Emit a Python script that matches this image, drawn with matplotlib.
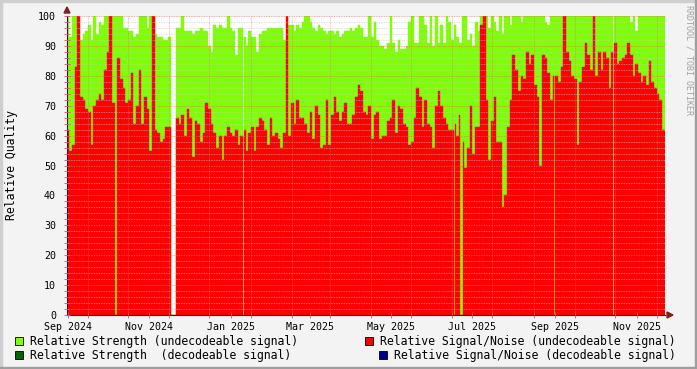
import datetime as dt
import numpy as np
import matplotlib
matplotlib.use("Agg")
import matplotlib.pyplot as plt
import matplotlib.dates as mdates
from matplotlib.patches import Rectangle, Polygon

# values, one value per 2 days starting 2024-08-31
snr = [62, 55, 57, 83, 100, 73, 72, 69, 68, 57,
       70, 72, 74, 72, 82, 88, 100, 71, 86, 86,
       79, 76, 71, 72, 81, 64, 70, 82, 64, 73,
       69, 55, 100, 62, 61, 58, 59, 63, 63, 62,
       62, 66, 64, 67, 60, 69, 66, 53, 65, 64,
       58, 61, 71, 69, 64, 61, 56, 60, 52, 60,
       63, 61, 60, 62, 57, 60, 62, 55, 61, 63,
       55, 63, 66, 65, 62, 57, 66, 60, 61, 59,
       56, 61, 100, 60, 71, 64, 72, 66, 66, 64,
       61, 68, 59, 70, 67, 56, 57, 72, 57, 67,
       73, 68, 65, 68, 71, 64, 64, 67, 73, 77,
       75, 68, 67, 70, 59, 67, 68, 59, 60, 60,
       65, 66, 72, 61, 70, 69, 64, 63, 57, 58,
       66, 76, 73, 63, 72, 64, 63, 56, 70, 75,
       70, 66, 64, 62, 62, 64, 60, 67, 58, 49,
       56, 70, 54, 63, 63, 97, 100, 72, 52, 65,
       73, 58, 58, 36, 40, 63, 72, 87, 82, 75,
       80, 79, 88, 84, 87, 77, 73, 50, 87, 86,
       81, 72, 80, 80, 78, 83, 100, 88, 85, 80,
       79, 57, 78, 83, 91, 87, 82, 100, 80, 88,
       82, 88, 86, 76, 88, 91, 84, 85, 86, 87,
       91, 87, 80, 84, 81, 78, 80, 77, 85, 78,
       76, 74, 72, 62]

strength = [100, 93, 100, 100, 93, 92, 94, 95, 97, 92,
            100, 94, 98, 97, 100, 100, 100, 100, 100, 100,
            100, 96, 96, 95, 95, 93, 94, 100, 100, 100,
            96, 100, 100, 94, 93, 93, 92, 92, 93, 93,
            93, 96, 96, 100, 95, 95, 95, 94, 95, 95,
            96, 95, 95, 90, 88, 97, 96, 97, 96, 96,
            100, 96, 95, 87, 96, 96, 93, 90, 95, 93,
            93, 88, 94, 95, 95, 96, 96, 96, 96, 96,
            96, 92, 91, 97, 97, 95, 97, 96, 98, 100,
            100, 98, 96, 95, 97, 96, 95, 94, 95, 95,
            94, 95, 93, 94, 95, 95, 96, 95, 96, 97,
            96, 93, 93, 100, 93, 98, 92, 90, 90, 89,
            91, 100, 91, 88, 92, 89, 89, 90, 98, 100,
            91, 91, 100, 100, 97, 91, 100, 90, 100, 91,
            97, 91, 100, 98, 92, 97, 93, 91, 100, 100,
            92, 94, 90, 98, 95, 100, 90, 100, 96, 100,
            98, 95, 100, 94, 100, 100, 97, 100, 100, 100,
            98, 100, 100, 100, 100, 100, 100, 100, 100, 98,
            97, 100, 100, 100, 100, 100, 100, 100, 100, 100,
            100, 100, 100, 100, 100, 100, 100, 100, 100, 100,
            100, 100, 100, 100, 100, 100, 100, 100, 100, 100,
            100, 98, 100, 95, 100, 100, 100, 100, 100, 100,
            100, 100, 100, 100]

missing_days = [78, 79, 80, 81, 132, 409]      # no data at all
zero_snr_days = [36, 37, 290, 295, 296, 365]  # strength only

start = dt.datetime(2024, 8, 31)
n_days = 2 * len(snr)
days = [start + dt.timedelta(days=i) for i in range(n_days)]
red = np.repeat(np.array(snr, float), 2)
green = np.repeat(np.array(strength, float), 2)
red[zero_snr_days] = 0
red[missing_days] = 0
green[missing_days] = 0

GREEN = "#80ff00"
RED = "#ff0000"

fig = plt.figure(figsize=(6.97, 3.69), dpi=100, facecolor="#f3f3f3")
W, H = 697, 369
ax = fig.add_axes([67 / W, 1 - 315 / H, 598 / W, 299 / H])
ax.set_facecolor("white")

ax.bar(days, green, width=1, align="edge", color=GREEN, edgecolor=GREEN, linewidth=0.3, zorder=1)
ax.bar(days, red, width=1, align="edge", color=RED, edgecolor=RED, linewidth=0.3, zorder=2)

ax.set_ylim(0, 100)
ax.set_xlim(dt.datetime(2024, 8, 31, 6), dt.datetime(2025, 11, 22, 6))

mono = "DejaVu Sans Mono"
ax.set_yticks(range(0, 101, 10))
ax.set_yticks(range(0, 101, 2), minor=True)
ax.xaxis.set_major_locator(mdates.MonthLocator(bymonth=[1, 3, 5, 7, 9, 11]))
ax.xaxis.set_major_formatter(mdates.DateFormatter("%b %Y"))
ax.xaxis.set_minor_locator(mdates.MonthLocator(bymonthday=16))
for lab in ax.get_xticklabels() + ax.get_yticklabels():
    lab.set_fontfamily(mono)
    lab.set_fontsize(7.2)
ax.tick_params(axis="both", which="both", direction="inout", length=4, width=0.6,
               color="#c06060", pad=3)
ax.tick_params(axis="y", pad=6)

ax.grid(True, which="minor", color="#c8c8c8", linestyle=(0, (1, 1)), linewidth=0.6, alpha=0.7)
ax.grid(True, which="major", axis="y", color="#e07070", linestyle=(0, (1, 1)), linewidth=0.6, alpha=0.8)
ax.grid(True, which="minor", axis="x", color="#e07070", linestyle=(0, (1, 1)), linewidth=0.6, alpha=0.6)
ax.set_axisbelow(False)

for s in ("top", "right"):
    ax.spines[s].set_visible(False)
for s in ("left", "bottom"):
    ax.spines[s].set_color("#202040")
    ax.spines[s].set_linewidth(0.8)

# axis arrows
arrow = "#7f1f1f"
fig.patches.append(Polygon([[64 / W, 1 - 13 / H], [70 / W, 1 - 13 / H], [67 / W, 1 - 7 / H]],
                           closed=True, transform=fig.transFigure, color=arrow))
fig.patches.append(Polygon([[667 / W, 1 - 312 / H], [667 / W, 1 - 318 / H], [673 / W, 1 - 315 / H]],
                           closed=True, transform=fig.transFigure, color=arrow))

fig.text(12 / W, 1 - 165 / H, "Relative Quality", rotation=90, ha="center", va="center",
         family=mono, fontsize=8.3, color="black")
fig.text(689 / W, 1 - 60 / H, "RRDTOOL / TOBI OETIKER", rotation=270, ha="center", va="center",
         family=mono, fontsize=6, color="#a0a0a0")

# legend
legend_rows = [
    (15, 341, GREEN, "Relative Strength (undecodeable signal)"),
    (15, 355, "#006400", "Relative Strength  (decodeable signal)"),
    (365, 341, RED, "Relative Signal/Noise (undecodeable signal)"),
    (379, 355, "#000090", "Relative Signal/Noise (decodeable signal)"),
]
for x, y, col, txt in legend_rows:
    fig.patches.append(Rectangle((x / W, 1 - (y + 4) / H), 8 / W, 8 / H, transform=fig.transFigure,
                                 facecolor=col, edgecolor="black", linewidth=0.6))
    fig.text((x + 15) / W, 1 - y / H, txt, ha="left", va="center", family=mono, fontsize=8.3)

# frame
fig.patches.append(Rectangle((0, 1 - 2 / H), 1, 2 / H, transform=fig.transFigure, color="#cfcfcf"))
fig.patches.append(Rectangle((0, 0), 2 / W, 1, transform=fig.transFigure, color="#cfcfcf"))
fig.patches.append(Rectangle((0, 0), 1, 2 / H, transform=fig.transFigure, color="#9e9e9e"))
fig.patches.append(Rectangle((1 - 2 / W, 0), 2 / W, 1, transform=fig.transFigure, color="#9e9e9e"))

fig.savefig("out.png", dpi=100, facecolor=fig.get_facecolor())
